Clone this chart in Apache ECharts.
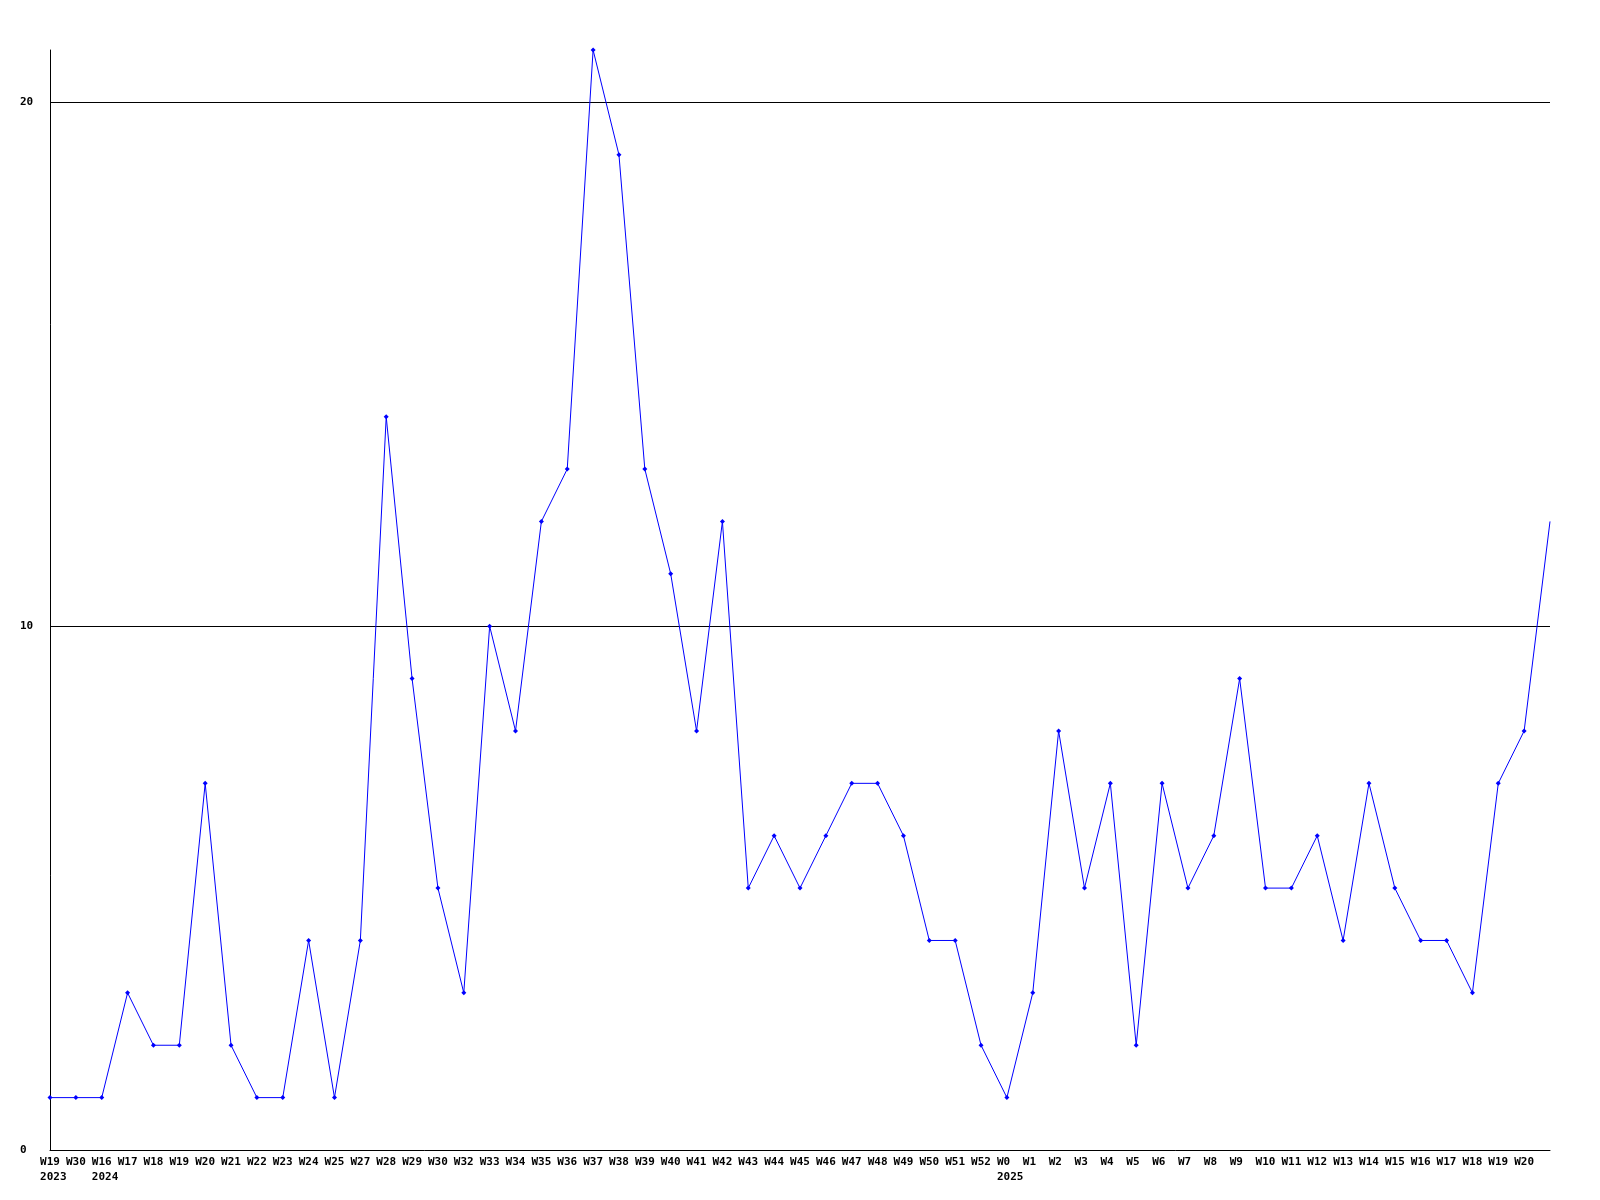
<!DOCTYPE html>
<html>
<head>
<meta charset="utf-8">
<script src="https://cdn.jsdelivr.net/npm/echarts@6/dist/echarts.min.js"></script>
<style>
html,body{margin:0;padding:0;background:#fff;}
#chart{width:1600px;height:1200px;}
</style>
</head>
<body>
<div id="chart"></div>
<script>
// Week labels (last point has no label in the reference)
const weeks = ['W19','W30','W16','W17','W18','W19','W20','W21','W22','W23','W24','W25','W27','W28','W29','W30','W32','W33','W34','W35','W36','W37','W38','W39','W40','W41','W42','W43','W44','W45','W46','W47','W48','W49','W50','W51','W52','W0','W1','W2','W3','W4','W5','W6','W7','W8','W9','W10','W11','W12','W13','W14','W15','W16','W17','W18','W19','W20',''];
// Year shown under the first week of each year
const years = ['2023','','2024','','','','','','','','','','','','','','','','','','','','','','','','','','','','','','','','','','','2025','','','','','','','','','','','','','','','','','','','','',''];
const values = [1,1,1,3,2,2,7,2,1,1,4,1,4,14,9,5,3,10,8,12,13,21,19,13,11,8,12,5,6,5,6,7,7,6,4,4,2,1,3,8,5,7,2,7,5,6,9,5,5,6,4,7,5,4,4,3,7,8,12];
const yTicks = [0, 10, 20];

const categories = weeks.map((w, i) => i + '|' + w);
const font = '"DejaVu Sans Mono", "Liberation Mono", monospace';

const chart = echarts.init(document.getElementById('chart'), null, {renderer: 'canvas'});
chart.setOption({
  animation: false,
  backgroundColor: '#ffffff',
  grid: {left: 50, right: 50, top: 50, bottom: 50, containLabel: false},
  xAxis: {
    type: 'category',
    data: categories,
    boundaryGap: false,
    axisLine: {show: true, lineStyle: {color: '#000', width: 1}},
    axisTick: {show: false},
    splitLine: {show: false},
    axisLabel: {
      interval: 0,
      margin: 5,
      color: '#000',
      fontFamily: font,
      fontWeight: 'bold',
      fontSize: 11,
      lineHeight: 15,
      align: 'center',
      formatter: function (v) {
        const idx = parseInt(v.split('|')[0], 10);
        let w = weeks[idx];
        if (!w) return '';
        while (w.length < 3) w += ' ';
        const y = years[idx];
        return y ? (w + '\n ' + y) : w;
      }
    }
  },
  yAxis: {
    type: 'value',
    min: 0,
    max: 21,
    interval: 10,
    axisLine: {show: true, lineStyle: {color: '#000', width: 1}},
    axisTick: {show: false},
    splitLine: {show: true, showMinLine: false, showMaxLine: false, lineStyle: {color: '#000', width: 1}},
    axisLabel: {
      showMaxLabel: false,
      align: 'left',
      margin: 30,
      color: '#000',
      fontFamily: font,
      fontWeight: 'bold',
      fontSize: 11,
      formatter: function (v) { return yTicks.indexOf(v) >= 0 ? String(v) : ''; }
    }
  },
  series: [{
    type: 'line',
    data: values,
    symbol: 'diamond',
    symbolSize: function (val, params) { return params.dataIndex === values.length - 1 ? 0 : 5; },
    showAllSymbol: true,
    lineStyle: {color: '#0000ff', width: 1},
    itemStyle: {color: '#0000ff'},
    clip: false
  }]
});
</script>
</body>
</html>
